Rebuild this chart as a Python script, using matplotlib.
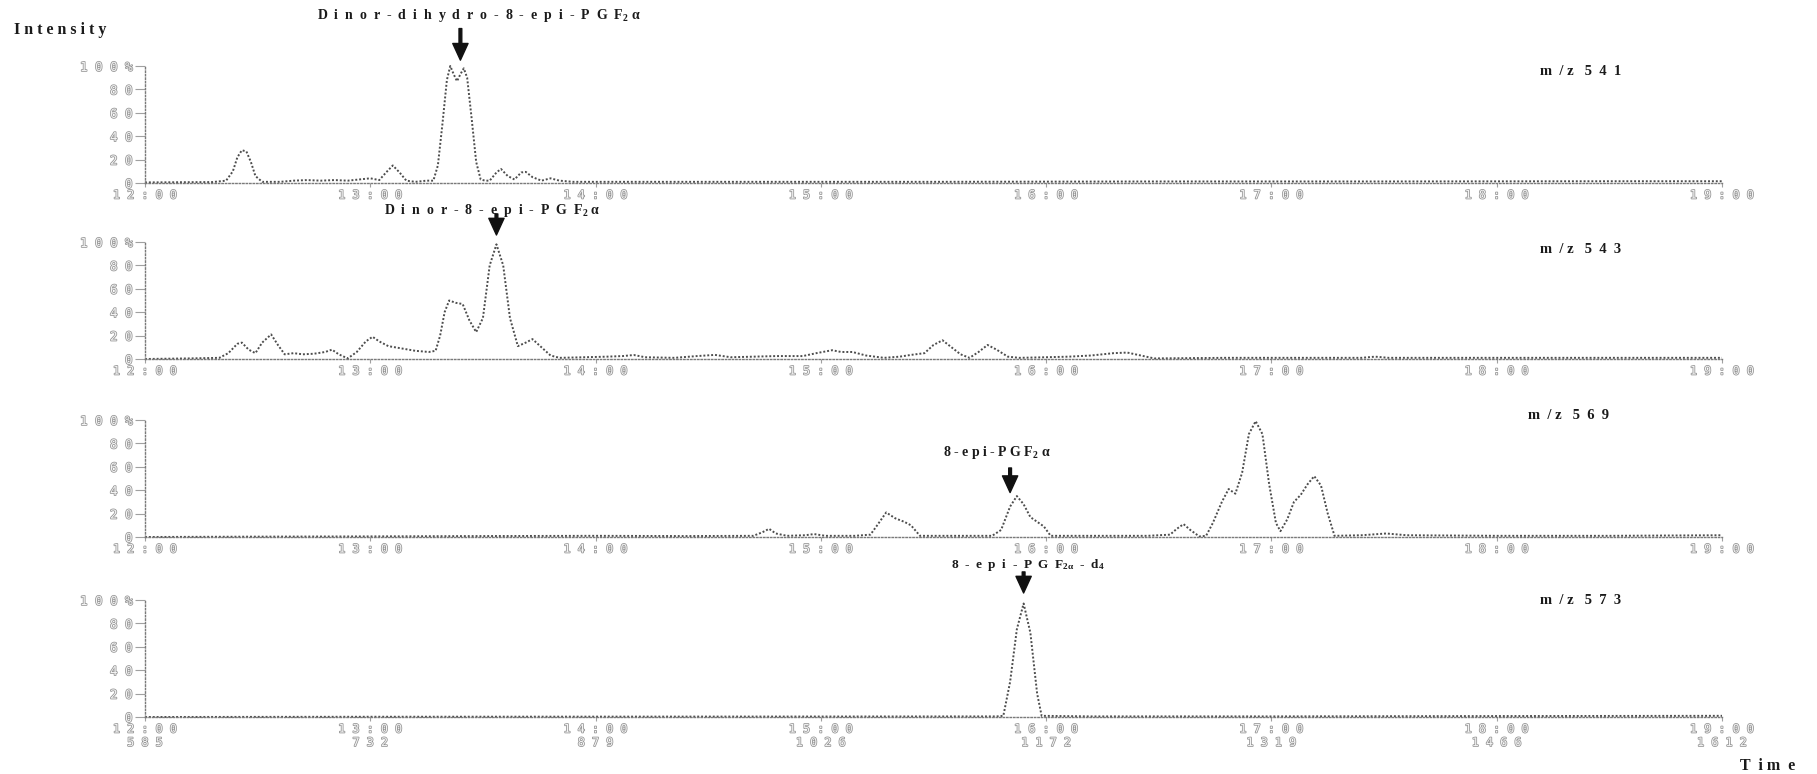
import matplotlib
matplotlib.use('Agg')
import matplotlib.pyplot as plt
import matplotlib.patheffects as pe

plt.rcParams['mathtext.fontset'] = 'custom'
plt.rcParams['mathtext.rm'] = 'Liberation Serif:bold'
plt.rcParams['mathtext.it'] = 'Liberation Serif:bold'
plt.rcParams['mathtext.bf'] = 'Liberation Serif:bold'
plt.rcParams['mathtext.default'] = 'rm'

# time axis (min) and scan numbers shown under the last trace
minutes = [12, 13, 14, 15, 16, 17, 18, 19]
time_labels = ['12:00', '13:00', '14:00', '15:00', '16:00', '17:00', '18:00', '19:00']
scan_labels = ['585', '732', '879', '1026', '1172', '1319', '1466', '1612']
pct_ticks = [0, 20, 40, 60, 80, 100]
pct_labels = ['0', '20', '40', '60', '80', '100%']

# m/z 541 ion trace
t541 = [12.00, 12.30, 12.36, 12.39, 12.41, 12.43, 12.45, 12.47, 12.49, 12.52, 12.60,
        12.66, 12.72, 12.78, 12.84, 12.90, 12.95, 13.00, 13.04, 13.07, 13.10, 13.13,
        13.16, 13.20, 13.25, 13.28, 13.30, 13.32, 13.34, 13.355, 13.37, 13.385, 13.40,
        13.415, 13.43, 13.45, 13.47, 13.49, 13.51, 13.53, 13.56, 13.58, 13.61, 13.64,
        13.67, 13.69, 13.72, 13.76, 13.80, 13.84, 13.90, 14.5, 15.5, 16.5, 17.5, 18.5, 19.0]
i541 = [0.5, 0.8, 2, 10, 22, 28, 27, 18, 6, 1, 1,
        2, 2.5, 2, 2.5, 2, 3, 4, 2.5, 9, 15, 9,
        2, 1, 2, 2, 15, 50, 88, 100, 93, 87, 93,
        98, 90, 55, 18, 3, 2, 2, 9, 12, 6, 3,
        9, 9.5, 5, 2, 4, 2, 1, 1, 1, 1.3, 1.3, 1.5, 1.5]

# m/z 543 ion trace
t543 = [12.00, 12.20, 12.33, 12.37, 12.41, 12.43, 12.46, 12.49, 12.52, 12.56, 12.59,
        12.62, 12.66, 12.70, 12.75, 12.80, 12.83, 12.86, 12.90, 12.94, 12.98, 13.01,
        13.04, 13.08, 13.14, 13.20, 13.26, 13.29, 13.31, 13.33, 13.35, 13.38, 13.41,
        13.44, 13.47, 13.50, 13.53, 13.56, 13.59, 13.62, 13.655, 13.69, 13.72, 13.76,
        13.80, 13.84, 13.95, 14.05, 14.12, 14.17, 14.22, 14.35, 14.45, 14.53, 14.60,
        14.70, 14.80, 14.92, 14.98, 15.05, 15.09, 15.14, 15.20, 15.28, 15.35, 15.40,
        15.46, 15.50, 15.54, 15.58, 15.62, 15.66, 15.70, 15.74, 15.78, 15.83, 15.88,
        16.00, 16.10, 16.20, 16.30, 16.36, 16.42, 16.48, 16.80, 17.20, 17.40, 17.46,
        17.52, 18.00, 18.50, 19.00]
i543 = [0, 0.5, 1, 5, 13, 14, 8, 5, 14, 21, 12,
        4, 5, 4, 4.5, 6, 8, 4, 0.5, 6, 15, 19,
        15, 11, 9, 7, 6, 7, 20, 40, 50, 48, 47,
        33, 23, 35, 80, 98, 80, 35, 11, 14, 17, 10,
        3, 1, 1.5, 2, 2.5, 3.4, 1.5, 1, 2.5, 3.5, 1.5,
        2, 2.5, 2.5, 5, 7.5, 6, 6, 3, 1, 2, 3.5,
        5, 12, 16, 10, 4, 1, 6, 12, 8, 2, 1,
        1.5, 2, 3, 5, 5.5, 3, 0.5, 1, 1, 1, 2,
        1, 1, 1, 1]

# m/z 569 ion trace
t569 = [12.00, 12.50, 13.00, 13.50, 14.00, 14.40, 14.70, 14.74, 14.77, 14.80, 14.85,
        14.93, 14.97, 15.02, 15.15, 15.22, 15.25, 15.29, 15.33, 15.37, 15.40, 15.44,
        15.60, 15.76, 15.80, 15.84, 15.87, 15.90, 15.93, 15.96, 15.99, 16.02, 16.20,
        16.45, 16.55, 16.58, 16.61, 16.64, 16.68, 16.71, 16.74, 16.78, 16.81, 16.84,
        16.87, 16.90, 16.93, 16.96, 16.99, 17.02, 17.04, 17.07, 17.10, 17.13, 17.16,
        17.19, 17.22, 17.25, 17.28, 17.40, 17.51, 17.60, 18.00, 18.50, 19.00]
i569 = [0, 0.3, 0.5, 0.8, 1, 0.8, 1, 4, 7, 3, 1,
        1.5, 2.5, 1, 1, 2, 10, 21, 16, 13, 10, 1,
        1, 1, 6, 26, 35, 28, 17, 13, 9, 1, 1,
        1, 2, 7, 11, 6, 0.5, 1, 12, 30, 41, 37,
        55, 88, 99, 88, 45, 12, 5, 15, 30, 36, 45,
        52, 44, 20, 1, 1.5, 3, 1.5, 1, 1, 1.5]

# m/z 573 ion trace (deuterated internal standard)
t573 = [12.0, 13.0, 14.0, 15.0, 15.78, 15.81, 15.84, 15.87, 15.90, 15.93, 15.96,
        15.98, 16.2, 17.0, 18.0, 19.0]
i573 = [0, 0.2, 0.3, 0.4, 0.5, 1, 30, 75, 97, 72, 20,
        1, 0.5, 0.5, 0.8, 1]

traces = [(t541, i541), (t543, i543), (t569, i569), (t573, i573)]
ion_names = ['m  / z   5  4  1', 'm  / z   5  4  3', 'm  / z   5  6  9', 'm  / z   5  7  3']
ion_pos = [(18.19, 95), (18.19, 94), (18.14, 104), (18.19, 100)]

peak_names = ['D  i  n  o  r  -  d  i  h  y  d  r  o  -  8  -  e  p  i  -  P  G  F$_{2}$ α',
              'D  i  n  o  r  -  8  -  e  p  i  -  P  G  F$_{2}$ α',
              '8 - e p i - P G F$_{2}$ α',
              '8  -  e  p  i  -  P  G  F$_{2α}$  -  d$_{4}$']
peak_sizes = [10, 10, 10, 9.5]
peak_label_pos = [(13.48, 143), (13.54, 127), (15.78, 72), (15.92, 130)]
arrow_x = [13.40, 13.56, 15.84, 15.90]
arrow_tail = [132, 124, 59, 124]
arrow_tip = [105, 106, 38, 106]

W, H = 1817, 774
fig = plt.figure(figsize=(W / 100, H / 100), dpi=100)
fig.patch.set_facecolor('white')

left = 145 / W
width = (1722 - 145) / W
baselines = [183, 359, 537, 717]
span = 117

serif = ['Liberation Serif', 'DejaVu Serif']
tick_fx = [pe.withStroke(linewidth=1.1, foreground='#939393')]


def spaced(s):
    return ' '.join(s)


for k, (t, y) in enumerate(traces):
    ax = fig.add_axes([left, 1 - baselines[k] / H, width, span / H])
    ax.plot(t, y, color='#4d4d4d', lw=1.4, ls=(0, (1, 1)), clip_on=False)
    ax.set_xlim(12, 19)
    ax.set_ylim(0, 100)

    for side in ['top', 'right']:
        ax.spines[side].set_visible(False)
    for side in ['left', 'bottom']:
        ax.spines[side].set_color('#7a7a7a')
        ax.spines[side].set_linestyle((0, (1, 1.5)))
        ax.spines[side].set_linewidth(1.0)

    ax.set_yticks(pct_ticks)
    ax.set_yticklabels([spaced(s) for s in pct_labels])
    ax.set_xticks(minutes)
    if k == 3:
        ax.set_xticklabels([spaced(a) + '\n' + spaced(b) for a, b in zip(time_labels, scan_labels)],
                           linespacing=1.05)
    else:
        ax.set_xticklabels([spaced(a) for a in time_labels])
    ax.tick_params(axis='both', colors='#a0a0a0', labelcolor='#f4f4f4', width=0.8)
    ax.tick_params(axis='y', length=7, pad=2, labelsize=9)
    ax.tick_params(axis='x', length=3, pad=1, labelsize=8.5)
    for lbl in ax.get_xticklabels() + ax.get_yticklabels():
        lbl.set_family('DejaVu Sans Mono')
        lbl.set_path_effects(tick_fx)

    ax.text(ion_pos[k][0], ion_pos[k][1], ion_names[k], family=serif, fontweight='bold',
            fontsize=10.5, va='center', ha='left', color='#1a1a1a')

    ax.text(peak_label_pos[k][0], peak_label_pos[k][1], peak_names[k], family=serif,
            fontweight='bold', fontsize=peak_sizes[k], ha='center', va='center',
            color='#1a1a1a', clip_on=False)
    ax.annotate('', xy=(arrow_x[k], arrow_tip[k]), xytext=(arrow_x[k], arrow_tail[k]),
                annotation_clip=False,
                arrowprops=dict(arrowstyle='simple,head_length=0.6,head_width=0.55,tail_width=0.1',
                                mutation_scale=20, color='#111111', shrinkA=0, shrinkB=0))

fig.text(14 / W, 1 - 30 / H, 'I n t e n s i t y', family=serif, fontweight='bold',
         fontsize=11.5, ha='left', va='center', color='#1a1a1a')
fig.text(1740 / W, 1 - 766 / H, 'T  i m  e', family=serif, fontweight='bold',
         fontsize=11.5, ha='left', va='center', color='#1a1a1a')

fig.savefig('out.png', dpi=100, facecolor='white')
